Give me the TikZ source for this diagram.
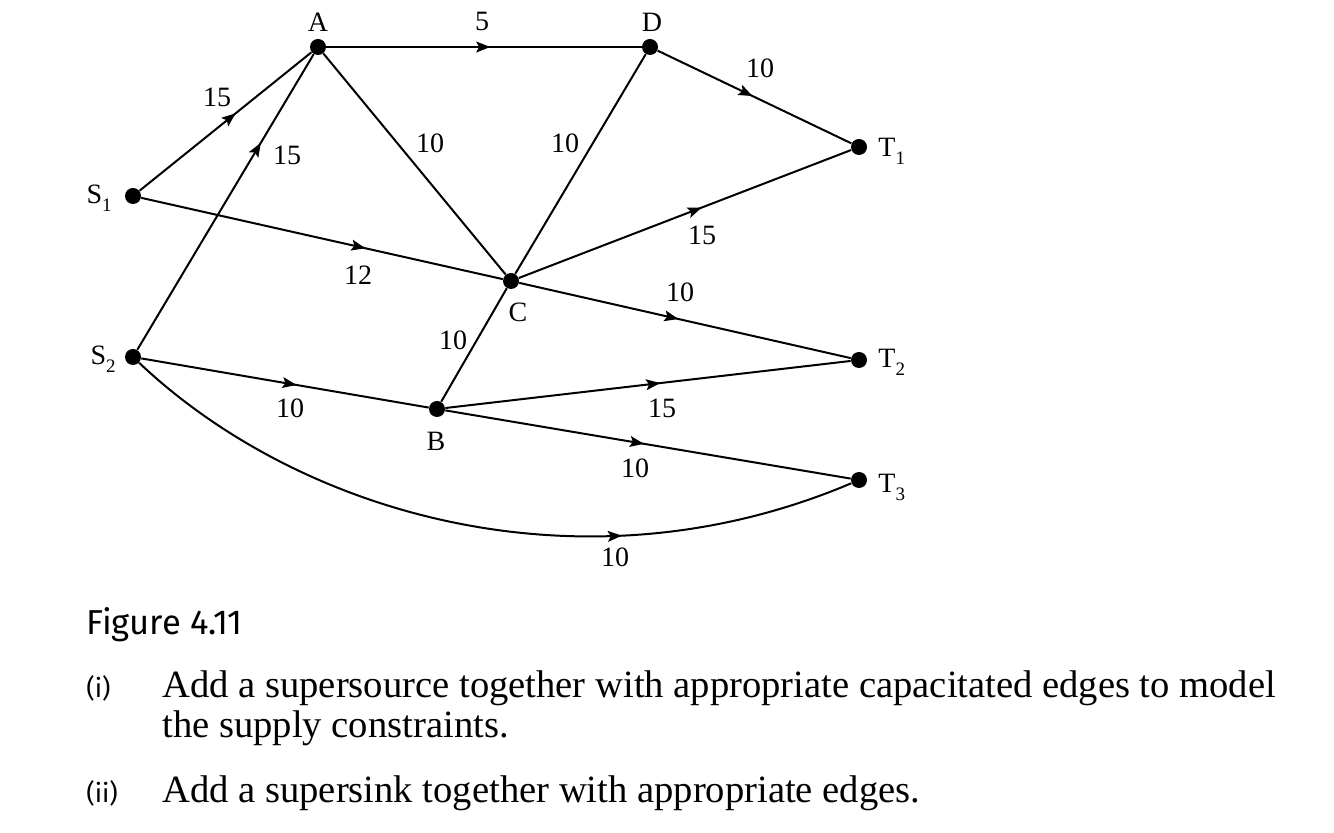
\documentclass[tikz,border=0pt]{standalone}
\usepackage{fontspec}
\setmainfont{Liberation Serif}
\newfontfamily\capfont{Fira Sans}
\usetikzlibrary{arrows.meta,decorations.markings}
\newcommand{\low}[1]{\raisebox{-4pt}{\fontsize{9.5}{9.5}\selectfont #1}}

\begin{document}
\begin{tikzpicture}[x=0.5pt,y=-0.5pt,
  vtx/.style={circle,fill=black,inner sep=0pt,minimum size=8pt},
  edge/.style={line width=1pt},
  midarrow/.style={postaction={decorate},decoration={markings,
    mark=at position #1 with {\arrow{Stealth[length=7pt,width=5.4pt,inset=1.4pt]}}}},
  lab/.style={font=\fontsize{14}{16}\selectfont,inner sep=0pt},
  qtext/.style={anchor=base west,font=\fontsize{19.3}{22}\selectfont,inner sep=0pt},
  qnum/.style={anchor=base west,font=\capfont\fontsize{13}{15}\selectfont,inner sep=0pt}]
 \useasboundingbox (0,0) rectangle (1334,833);
 % vertices
 \foreach \n/\x/\y in {A/318/47,D/650/47,S1/133/196,S2/133/357,C/511/281,
   B/437/409,T1/859/147,T2/859/360,T3/859/480}
  \node[vtx] (\n) at (\x,\y) {};
 % vertex names
 \node[lab] (nA) at (318,22) {A};
 \node[lab] (nD) at (652,22) {D};
 \node[lab] (nC) at (518,312) {C};
 \node[lab] (nB) at (436,441) {B};
 \node[lab,anchor=base east] (nS1) at (112,204) {S\low{1}};
 \node[lab,anchor=base east] (nS2) at (116,365) {S\low{2}};
 \node[lab,anchor=base west] (nT1) at (878,157) {T\low{1}};
 \node[lab,anchor=base west] (nT2) at (878,368) {T\low{2}};
 \node[lab,anchor=base west] (nT3) at (878,493) {T\low{3}};
 % directed edges
 \foreach \u/\v/\p in {S1/A/0.56,S2/A/0.70,A/D/0.52,D/T1/0.49,C/T1/0.55,
   S1/C/0.62,C/T2/0.48,S2/B/0.54,B/T2/0.53,B/T3/0.49}
  \draw[edge,midarrow=\p] (\u) -- (\v);
 % undirected edges
 \foreach \u/\v in {A/C,D/C,C/B}
  \draw[edge] (\u) -- (\v);
 \draw[edge,midarrow=0.69] (S2) .. controls (300,515) and (583,597) .. (T3);
 % capacities
 \foreach \n/\x/\y/\t in {wS1A/217/97/15,wS2A/287/155/15,wAD/482/21/5,
   wAC/430/143/10,wDC/565/143/10,wDT1/760/68/10,wS1C/358/275/12,
   wCT1/702/235/15,wCT2/680/292/10,wCB/453/340/10,wS2B/290/408/10,
   wBT2/662/408/15,wBT3/635/468/10,wS2T3/615/557/10}
  \node[lab] (\n) at (\x,\y) {\t};
 % caption and questions
 \node[anchor=base west,font=\capfont\fontsize{17.3}{20}\selectfont,inner sep=0pt]
   (fig) at (86,635) {Figure 4.11};
 \node[qnum] (qi) at (86,698) {(i)};
 \node[qtext] (qiA) at (162,698) {Add a supersource together with appropriate capacitated edges to model};
 \node[qtext] (qiB) at (162,738) {the supply constraints.};
 \node[qnum] (qii) at (86,803) {(ii)};
 \node[qtext] (qiiA) at (162,803) {Add a supersink together with appropriate edges.};
\end{tikzpicture}
\end{document}
